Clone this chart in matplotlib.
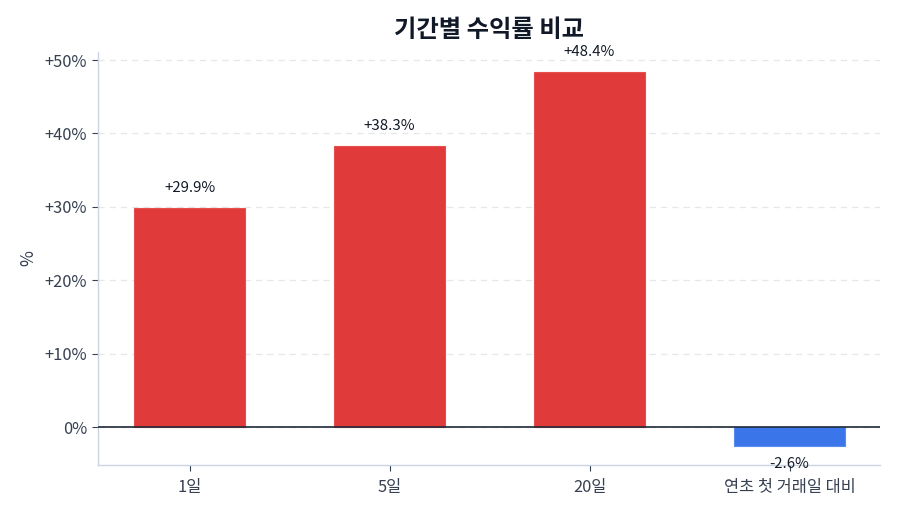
import matplotlib
matplotlib.use("Agg")
import matplotlib.pyplot as plt
from matplotlib.ticker import FuncFormatter

plt.rcParams['font.family'] = ['Noto Sans CJK KR', 'DejaVu Sans']

categories = ['1일', '5일', '20일', '연초 첫 거래일 대비']
values = [29.9, 38.3, 48.4, -2.6]
yticks = [0, 10, 20, 30, 40, 50]

fig = plt.figure(figsize=(9, 5.14), dpi=100)
ax = fig.add_axes([98/900, 1-465/514, (880-98)/900, (465-52)/514])

colors = ['#e03a3a' if v >= 0 else '#3b75ea' for v in values]
edges = ['#e85050' if v >= 0 else '#5a8cf0' for v in values]
x = list(range(len(categories)))
ax.bar(x, values, width=0.555, color=colors, edgecolor=edges, linewidth=0.8, zorder=3)

for xi, v in zip(x, values):
    lab = f'{v:+.1f}%'
    if v >= 0:
        ax.annotate(lab, (xi, v), xytext=(0, 14.5), textcoords='offset points',
                    ha='center', va='center', fontsize=10.8, color='#111827', zorder=4)
    else:
        ax.annotate(lab, (xi, v), xytext=(0, -13), textcoords='offset points',
                    ha='center', va='center', fontsize=10.8, color='#111827', zorder=4)

ax.axhline(0, color='#1f2937', linewidth=1.2, zorder=4)
ax.set_xlim(-0.458, 3.452)
ax.set_ylim(-5.15, 51.1)
ax.set_yticks(yticks)
ax.yaxis.set_major_formatter(FuncFormatter(lambda v, p: '0%' if v == 0 else f'{v:+.0f}%'))
ax.set_xticks(x)
ax.set_xticklabels(categories)
ax.grid(axis='y', color='#e5e7eb', linestyle=(0, (5, 4)), linewidth=0.9, zorder=0)
for s in ['top', 'right']:
    ax.spines[s].set_visible(False)
for s in ['left', 'bottom']:
    ax.spines[s].set_color('#cbd5e1')
    ax.spines[s].set_linewidth(1.0)
ax.tick_params(axis='both', colors='#374151', labelsize=11.8, length=4, width=0.8)
ax.tick_params(axis='y', pad=4)
ax.tick_params(axis='x', pad=6)
ax.set_ylabel('%', fontsize=12.5, color='#374151', labelpad=5)
ax.set_title('기간별 수익률 비교', fontsize=17.5, fontweight='bold', color='#111827', pad=11)

fig.savefig('out.png', dpi=100)
